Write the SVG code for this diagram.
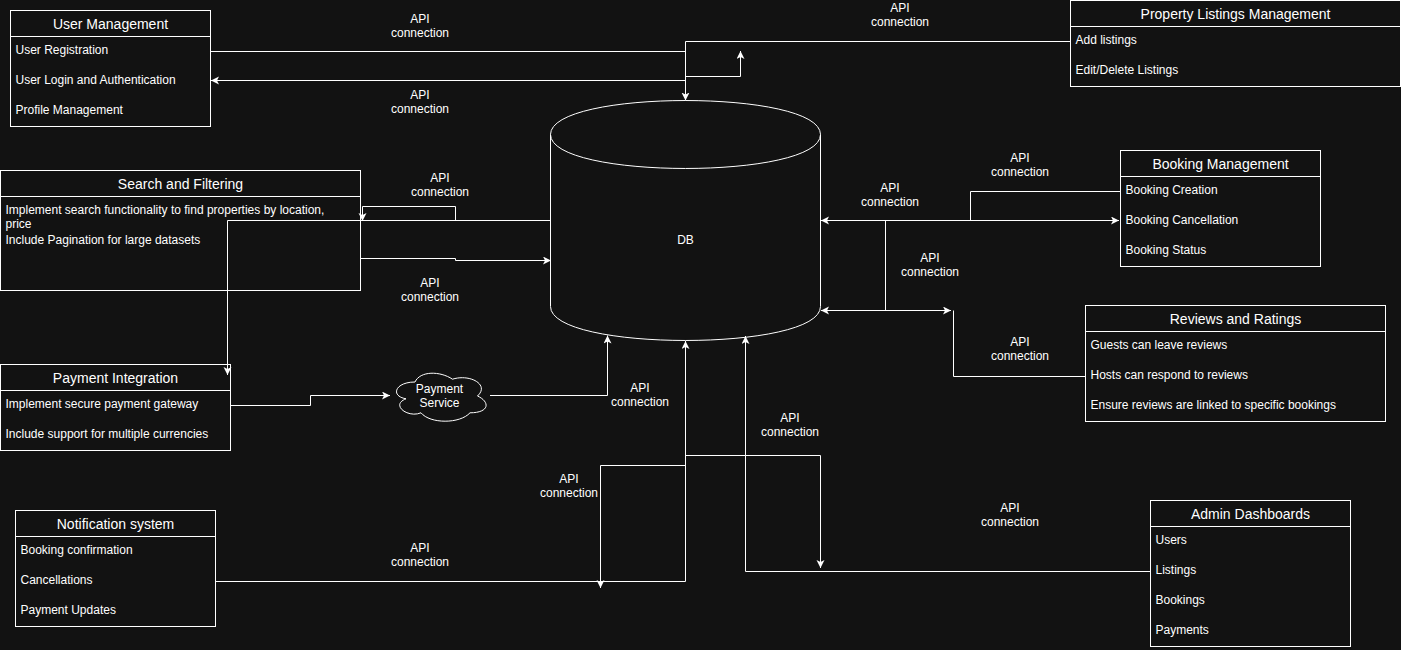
<svg xmlns="http://www.w3.org/2000/svg" width="1401" height="650" viewBox="0 0 1401 650">
<style>
.bg{fill:#121212}
.box{fill:#121212;stroke:#ffffff;stroke-width:1}
.sep{stroke:#ffffff;stroke-width:1}
.title{font-family:"Liberation Sans",Arial,Helvetica,sans-serif;font-size:14px;fill:#ffffff;text-anchor:middle}
.item{font-family:"Liberation Sans",Arial,Helvetica,sans-serif;font-size:12px;fill:#ffffff}
.lbl{font-family:"Liberation Sans",Arial,Helvetica,sans-serif;font-size:12px;fill:#ffffff;text-anchor:middle}
.edge{fill:none;stroke:#ffffff;stroke-width:1}
.end{marker-end:url(#arrow)}
.both{marker-start:url(#arrow);marker-end:url(#arrow)}
</style>
<defs>
<marker id="arrow" markerWidth="10" markerHeight="10" refX="8" refY="4" orient="auto-start-reverse" markerUnits="userSpaceOnUse">
<path d="M0,0 L8,4 L0,8 L2,4 Z" fill="#ffffff"/>
</marker>
</defs>
<rect class="bg" x="0" y="0" width="1401" height="650"/>

<g id="user-management">
<rect class="box" x="10.5" y="10.5" width="200" height="116"/>
<line class="sep" x1="10.5" y1="36.5" x2="210.5" y2="36.5"/>
<text class="title" x="110.5" y="28.5">User Management</text>
<text class="item" x="15.5" y="54">User Registration</text>
<text class="item" x="15.5" y="84">User Login and Authentication</text>
<text class="item" x="15.5" y="114">Profile Management</text>
</g>

<g id="property-listings">
<rect class="box" x="1070.5" y="0.5" width="330" height="86"/>
<line class="sep" x1="1070.5" y1="26.5" x2="1400.5" y2="26.5"/>
<text class="title" x="1235.5" y="18.5">Property Listings Management</text>
<text class="item" x="1075.5" y="43.5">Add listings</text>
<text class="item" x="1075.5" y="73.5">Edit/Delete Listings</text>
</g>

<g id="search-filtering">
<rect class="box" x="0.5" y="170.5" width="360" height="120"/>
<line class="sep" x1="0.5" y1="196.5" x2="360.5" y2="196.5"/>
<text class="title" x="180.5" y="188.5">Search and Filtering</text>
<text class="item" x="5.5" y="213.5">Implement search functionality to find properties by location,<tspan x="5.5" dy="14.4">price</tspan></text>
<text class="item" x="5.5" y="243.5">Include Pagination for large datasets</text>
</g>

<g id="booking-management">
<rect class="box" x="1120.5" y="150.5" width="200" height="116"/>
<line class="sep" x1="1120.5" y1="176.5" x2="1320.5" y2="176.5"/>
<text class="title" x="1220.5" y="168.5">Booking Management</text>
<text class="item" x="1125.5" y="193.5">Booking Creation</text>
<text class="item" x="1125.5" y="223.5">Booking Cancellation</text>
<text class="item" x="1125.5" y="253.5">Booking Status</text>
</g>

<g id="reviews-ratings">
<rect class="box" x="1085.5" y="305.5" width="300" height="116"/>
<line class="sep" x1="1085.5" y1="331.5" x2="1385.5" y2="331.5"/>
<text class="title" x="1235.5" y="323.5">Reviews and Ratings</text>
<text class="item" x="1090.5" y="348.5">Guests can leave reviews</text>
<text class="item" x="1090.5" y="378.5">Hosts can respond to reviews</text>
<text class="item" x="1090.5" y="408.5">Ensure reviews are linked to specific bookings</text>
</g>

<g id="payment-integration">
<rect class="box" x="0.5" y="364.5" width="230" height="86"/>
<line class="sep" x1="0.5" y1="390.5" x2="230.5" y2="390.5"/>
<text class="title" x="115.5" y="382.5">Payment Integration</text>
<text class="item" x="5.5" y="407.5">Implement secure payment gateway</text>
<text class="item" x="5.5" y="437.5">Include support for multiple currencies</text>
</g>

<g id="notification-system">
<rect class="box" x="15.5" y="510.5" width="200" height="116"/>
<line class="sep" x1="15.5" y1="536.5" x2="215.5" y2="536.5"/>
<text class="title" x="115.5" y="528.5">Notification system</text>
<text class="item" x="20.5" y="554">Booking confirmation</text>
<text class="item" x="20.5" y="584">Cancellations</text>
<text class="item" x="20.5" y="614">Payment Updates</text>
</g>

<g id="admin-dashboards">
<rect class="box" x="1150.5" y="500.5" width="200" height="146"/>
<line class="sep" x1="1150.5" y1="526.5" x2="1350.5" y2="526.5"/>
<text class="title" x="1250.5" y="518.5">Admin Dashboards</text>
<text class="item" x="1155.5" y="544">Users</text>
<text class="item" x="1155.5" y="574">Listings</text>
<text class="item" x="1155.5" y="604">Bookings</text>
<text class="item" x="1155.5" y="634">Payments</text>
</g>

<g id="db">
<path class="box" d="M550.5,134.5 C550.5,89.2 820.5,89.2 820.5,134.5 L820.5,306.5 C820.5,351.8 550.5,351.8 550.5,306.5 Z"/>
<path class="edge" d="M550.5,134.5 C550.5,179.8 820.5,179.8 820.5,134.5"/>
<text class="lbl" x="685.5" y="244">DB</text>
</g>

<g id="payment-service">
<path class="box" d="M415,382 C395,382 390,396 406,398.8 C390,405 408,418.4 421,412.8 C430,424 460,424 470,412.8 C490,412.8 490,401.6 477.5,396 C490,384.8 470,373.6 452.5,379.2 C440,370.8 420,370.8 415,382 Z"/>
<text class="lbl" x="439.5" y="392.5">Payment</text>
<text class="lbl" x="439.5" y="407">Service</text>
</g>

<g id="connectors">
<path class="edge" d="M210.5,51.5 H685.5"/>
<path class="edge end" d="M1070.5,41.5 H685.5 V100.5"/>
<path class="edge both" d="M740.5,51 V76.5 H685.5 V80.5 H211"/>
<path class="edge end" d="M550.5,220.5 H227.5 V375"/>
<path class="edge end" d="M455.5,220.5 V206.5 H362.5 V221"/>
<path class="edge end" d="M360.5,258.5 H455.5 V260.5 H551"/>
<path class="edge end" d="M230.5,405.5 H310.5 V395.5 H390"/>
<path class="edge end" d="M490,395.5 H607.5 V335.5"/>
<path class="edge end" d="M215.5,581.5 H685.5 V341"/>
<path class="edge end" d="M685.5,465.5 H600.5 V588"/>
<path class="edge end" d="M685.5,455.5 H820.5 V568"/>
<path class="edge end" d="M1150.5,571.5 H745.5 V336"/>
<path class="edge both" d="M821,220.5 H1119"/>
<path class="edge" d="M970.5,220.5 V191.5 H1120.5"/>
<path class="edge" d="M885.5,220.5 V310.5"/>
<path class="edge both" d="M821,310.5 H951"/>
<path class="edge" d="M953.5,310.5 V376.5 H1085.5"/>
<g id="labels">
<text class="lbl" x="420" y="22.5">API<tspan x="420" dy="14.4">connection</tspan></text>
<text class="lbl" x="420" y="98.5">API<tspan x="420" dy="14.4">connection</tspan></text>
<text class="lbl" x="900" y="11.5">API<tspan x="900" dy="14.4">connection</tspan></text>
<text class="lbl" x="440" y="182">API<tspan x="440" dy="14.4">connection</tspan></text>
<text class="lbl" x="430" y="287">API<tspan x="430" dy="14.4">connection</tspan></text>
<text class="lbl" x="1020" y="161.5">API<tspan x="1020" dy="14.4">connection</tspan></text>
<text class="lbl" x="890" y="192">API<tspan x="890" dy="14.4">connection</tspan></text>
<text class="lbl" x="930" y="262">API<tspan x="930" dy="14.4">connection</tspan></text>
<text class="lbl" x="1020" y="346">API<tspan x="1020" dy="14.4">connection</tspan></text>
<text class="lbl" x="640" y="392">API<tspan x="640" dy="14.4">connection</tspan></text>
<text class="lbl" x="790" y="422">API<tspan x="790" dy="14.4">connection</tspan></text>
<text class="lbl" x="569" y="482.5">API<tspan x="569" dy="14.4">connection</tspan></text>
<text class="lbl" x="420" y="552">API<tspan x="420" dy="14.4">connection</tspan></text>
<text class="lbl" x="1010" y="512">API<tspan x="1010" dy="14.4">connection</tspan></text>
</g>
</g>
</svg>
